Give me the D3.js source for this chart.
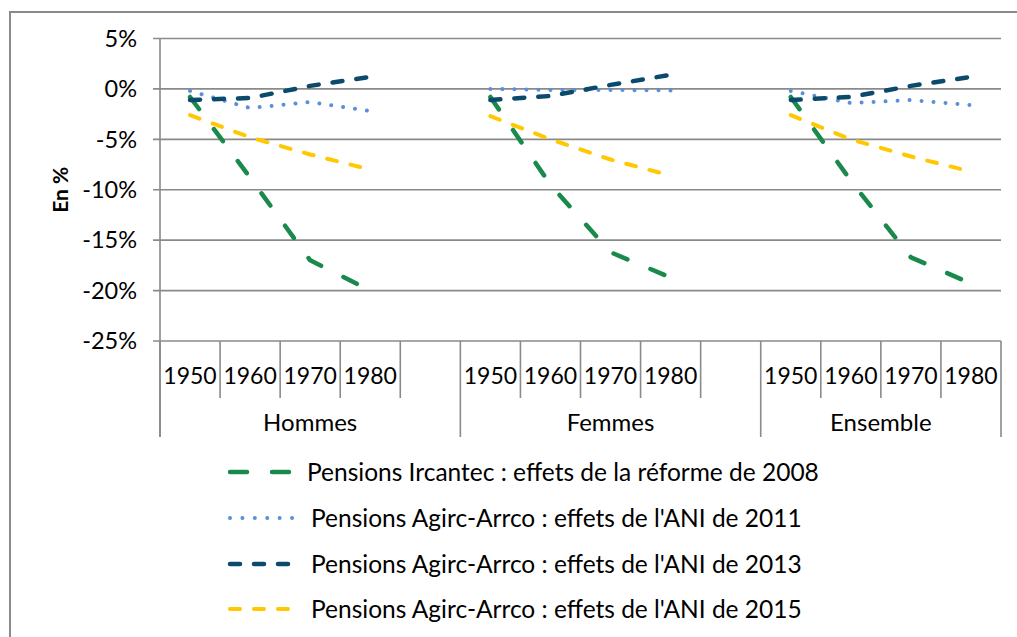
<!DOCTYPE html>
<html>
<head>
<meta charset="utf-8">
<script src="https://cdnjs.cloudflare.com/ajax/libs/d3/7.8.5/d3.min.js"></script>
<style>
  body { margin: 0; background: #fff; }
  text { font-family: Lato, "Noto Sans", sans-serif; fill: #000; }
</style>
</head>
<body>
<div id="chart1"></div>
<script>
// data (values in %)
var years = ["1950", "1960", "1970", "1980"];
var groups = ["Hommes", "Femmes", "Ensemble"];
var yTicks = [5, 0, -5, -10, -15, -20, -25];

var ircantec2008 = [[-0.8, -8.8, -17.0, -20.0], [-0.8, -9.5, -16.2, -18.7], [-0.8, -9.1, -16.7, -19.3]];
var ani2011 = [[-0.2, -1.9, -1.3, -2.2], [0.0, -0.1, -0.1, -0.15], [-0.2, -1.4, -1.1, -1.6]];
var ani2013 = [[-1.1, -0.9, 0.3, 1.2], [-1.1, -0.7, 0.4, 1.4], [-1.1, -0.8, 0.3, 1.2]];
var ani2015 = [[-2.6, -4.8, -6.5, -8.0], [-2.7, -5.0, -7.0, -8.6], [-2.6, -5.0, -6.7, -8.2]];

var seriesNames = [
    "Pensions Ircantec : effets de la réforme de 2008",
    "Pensions Agirc-Arrco : effets de l'ANI de 2011",
    "Pensions Agirc-Arrco : effets de l'ANI de 2013",
    "Pensions Agirc-Arrco : effets de l'ANI de 2015"
];

var width = 1017;
var height = 637;
var plot = { left: 160, right: 1001, top: 38.5, bottom: 341 };
var gray = "#8a8a8a";

var series = [
    { name: seriesNames[0], values: ircantec2008, color: "#1a8a4c", width: 4.5, dash: "15,25", legDash: "17,25" },
    { name: seriesNames[1], values: ani2011, color: "#5b8fda", width: 4, dash: "0.01,12", legDash: "0.01,12.4" },
    { name: seriesNames[2], values: ani2013, color: "#0c4a6b", width: 4.5, dash: "10,14", legDash: "10,14" },
    { name: seriesNames[3], values: ani2015, color: "#ffc800", width: 4, dash: "10,14", legDash: "10,14" }
];

// category slots : 4 years per group + one empty slot between groups
var slots = [];
groups.forEach(function (g, gi) {
    years.forEach(function (y) { slots.push(g + "|" + y); });
    if (gi < groups.length - 1) slots.push(g + "|gap");
});

var x = d3.scaleBand().domain(slots).range([plot.left, plot.right]).padding(0);
var y = d3.scaleLinear().domain([-25, 5]).range([plot.bottom, plot.top]);

var svg = d3.select("#chart1")
    .append("svg")
    .attr("width", width)
    .attr("height", height);

// outer frame (only top and left visible)
svg.append("path")
    .attr("d", "M10," + height + "V12H" + width)
    .attr("fill", "none")
    .attr("stroke", gray)
    .attr("stroke-width", 2);

// horizontal grid lines
svg.append("g")
    .selectAll("line")
    .data(yTicks)
    .enter()
    .append("line")
    .attr("x1", plot.left - 7)
    .attr("x2", plot.right)
    .attr("y1", function (d) { return y(d); })
    .attr("y2", function (d) { return y(d); })
    .attr("stroke", gray)
    .attr("stroke-width", 1.6);

// y labels
svg.append("g")
    .selectAll("text")
    .data(yTicks)
    .enter()
    .append("text")
    .attr("x", 137)
    .attr("y", function (d) { return y(d); })
    .attr("dy", "0.35em")
    .attr("text-anchor", "end")
    .attr("font-size", 23.5)
    .text(function (d) { return d + "%"; });

svg.append("text")
    .attr("transform", "translate(68," + ((plot.top + plot.bottom) / 2) + ") rotate(-90)")
    .attr("text-anchor", "middle")
    .attr("font-size", 21)
    .attr("font-weight", "bold")
    .text("En %");

// y axis line
svg.append("line")
    .attr("x1", plot.left).attr("x2", plot.left)
    .attr("y1", plot.top).attr("y2", 437)
    .attr("stroke", gray)
    .attr("stroke-width", 1.6);

// x category separators
var bounds = slots.map(function (s) { return x(s); }).concat([plot.right]);
svg.append("g")
    .selectAll("line")
    .data(bounds)
    .enter()
    .append("line")
    .attr("x1", function (d) { return d; })
    .attr("x2", function (d) { return d; })
    .attr("y1", plot.bottom)
    .attr("y2", function (d, i) {
        var s = slots[i];
        var isGroupEdge = i == slots.length || s.split("|")[1] == years[0];
        return isGroupEdge ? 437 : 398;
    })
    .attr("stroke", gray)
    .attr("stroke-width", 1.6);

// year labels
svg.append("g")
    .selectAll("text")
    .data(slots.filter(function (s) { return s.indexOf("gap") < 0; }))
    .enter()
    .append("text")
    .attr("x", function (d) { return x(d) + x.bandwidth() / 2; })
    .attr("y", 376)
    .attr("dy", "0.35em")
    .attr("text-anchor", "middle")
    .attr("font-size", 23)
    .text(function (d) { return d.split("|")[1]; });

// group labels
svg.append("g")
    .selectAll("text")
    .data(groups)
    .enter()
    .append("text")
    .attr("x", function (d, i) {
        var x0 = x(d + "|" + years[0]);
        var x1 = i < groups.length - 1 ? x(groups[i + 1] + "|" + years[0]) : plot.right;
        return (x0 + x1) / 2;
    })
    .attr("y", 423)
    .attr("dy", "0.35em")
    .attr("text-anchor", "middle")
    .attr("font-size", 24)
    .text(function (d) { return d; });

// lines, one path per series and group
var line = d3.line()
    .x(function (d) { return x(d.slot) + x.bandwidth() / 2; })
    .y(function (d) { return y(d.v); });

series.forEach(function (s) {
    groups.forEach(function (g, gi) {
        var pts = s.values[gi].map(function (v, j) { return { slot: g + "|" + years[j], v: v }; });
        svg.append("path")
            .datum(pts)
            .attr("d", line)
            .attr("fill", "none")
            .attr("stroke", s.color)
            .attr("stroke-width", s.width)
            .attr("stroke-linecap", "round")
            .attr("stroke-dasharray", s.dash);
    });
});

// legend
var legY = [472, 518, 564, 609];
var legTextX = [307, 311, 311, 311];
var leg = svg.selectAll(".leg")
    .data(series)
    .enter()
    .append("g")
    .attr("class", "leg");

leg.append("line")
    .attr("x1", 230)
    .attr("x2", 293)
    .attr("y1", function (d, i) { return legY[i]; })
    .attr("y2", function (d, i) { return legY[i]; })
    .attr("stroke", function (d) { return d.color; })
    .attr("stroke-width", function (d) { return d.width; })
    .attr("stroke-linecap", "round")
    .attr("stroke-dasharray", function (d) { return d.legDash; });

leg.append("text")
    .attr("x", function (d, i) { return legTextX[i]; })
    .attr("y", function (d, i) { return legY[i]; })
    .attr("dy", "0.35em")
    .attr("font-size", 24.5)
    .text(function (d) { return d.name; });
</script>
</body>
</html>
